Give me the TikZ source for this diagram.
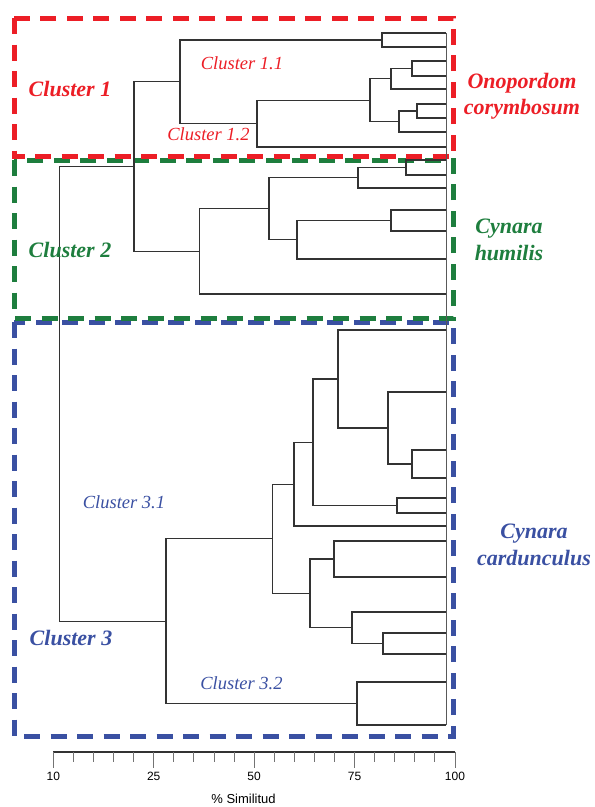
\documentclass[tikz,border=0pt]{standalone}
\usepackage{fontspec}
\setmainfont{Liberation Serif}
\newfontfamily\axisfont{Liberation Sans}
\usepackage{xcolor}
\usepackage{tikz}
\usetikzlibrary{positioning}

\definecolor{clred}{RGB}{236,30,38}
\definecolor{clgreen}{RGB}{30,126,62}
\definecolor{clblue}{RGB}{58,80,162}

\begin{document}
\begin{tikzpicture}[x=1pt, y=-1pt,
    branch/.style={draw=black!80, line width=1.2pt},
    leafend/.style={draw=black!65, line width=0.7pt},
    clbox/.style={line width=5pt, dash pattern=on 16pt off 10.5pt},
    bigtag/.style={font=\fontsize{22}{26.5}\selectfont\bfseries\itshape, align=center, inner sep=0pt},
    subtag/.style={font=\fontsize{18.5}{20}\selectfont\itshape, inner sep=0pt},
    axisline/.style={draw=black!80, line width=2pt},
    tickmark/.style={draw=black!55, line width=0.9pt},
    ticklab/.style={font=\axisfont\fontsize{12}{12}\selectfont, inner sep=0pt}]
    \useasboundingbox (0,0) rectangle (595,807);

    % dashed cluster frames
    \draw[clbox, draw=clblue] (14,322) rectangle (453.5,736);
    \draw[clbox, draw=clgreen] (14,160) rectangle (453.5,318);
    \draw[clbox, draw=clred] (14,18) rectangle (453.5,156);

    % leaves (right end of the dendrogram)
    \foreach \n/\y in {a1/33, a2/47, a3/61, a4/76, a5/89, a6/104, a7/118, a8/132, a9/147,
                       b1/160, b2/175, b3/188, b4/210, b5/231, b6/259, b7/294,
                       d1/330, d2/392, d3/450, d4/478, d5/498, d6/513, d7/526,
                       d8/541, d9/577, d10/612, d11/633, d12/654, d13/682, d14/725}
        \coordinate (\n) at (446,\y);

    % joins: cluster 1
    \coordinate (c12) at (382,40);
    \coordinate (c34) at (412,68.5);
    \coordinate (c345) at (391,78.75);
    \coordinate (c67) at (417,111);
    \coordinate (c678) at (399,121.5);
    \coordinate (c38) at (370,100.1);
    \coordinate (c39) at (257,123.6);
    \coordinate (cl1) at (180,81.8);
    % joins: cluster 2
    \coordinate (cb12) at (406,167.5);
    \coordinate (cb123) at (358,177.75);
    \coordinate (cb45) at (391,220.5);
    \coordinate (cb456) at (297,239.75);
    \coordinate (cb16) at (269,208.75);
    \coordinate (cl2) at (199.5,251.4);
    \coordinate (cl12) at (134,166.6);
    % joins: cluster 3
    \coordinate (cd34) at (412,464);
    \coordinate (cd234) at (388,428);
    \coordinate (cd14) at (338,379);
    \coordinate (cd56) at (397,505.5);
    \coordinate (cd16) at (313,442.25);
    \coordinate (cd17) at (294,484.1);
    \coordinate (cd89) at (334,559);
    \coordinate (cd1112) at (383,643.5);
    \coordinate (cd1012) at (352,627.75);
    \coordinate (cd812) at (310,593.4);
    \coordinate (cl31) at (272.5,538.75);
    \coordinate (cl32) at (357,703.5);
    \coordinate (cl3) at (166,621.1);
    \coordinate (root) at (59.3,393.9);

    \draw[leafend] (a1) -- (d14);

    % child -| parent
    \foreach \c/\p in {a1/c12, a2/c12, a3/c34, a4/c34, c34/c345, a5/c345,
                       a6/c67, a7/c67, c67/c678, a8/c678, c345/c38, c678/c38,
                       c38/c39, a9/c39, c12/cl1, c39/cl1,
                       b1/cb12, b2/cb12, cb12/cb123, b3/cb123, b4/cb45, b5/cb45,
                       cb45/cb456, b6/cb456, cb123/cb16, cb456/cb16, cb16/cl2, b7/cl2,
                       cl1/cl12, cl2/cl12,
                       d3/cd34, d4/cd34, d2/cd234, cd34/cd234, d1/cd14, cd234/cd14,
                       d5/cd56, d6/cd56, cd14/cd16, cd56/cd16, cd16/cd17, d7/cd17,
                       d8/cd89, d9/cd89, d11/cd1112, d12/cd1112, d10/cd1012, cd1112/cd1012,
                       cd89/cd812, cd1012/cd812, cd17/cl31, cd812/cl31,
                       d13/cl32, d14/cl32, cl31/cl3, cl32/cl3,
                       cl12/root, cl3/root}
        \draw[branch] (\c) -| (\p);

    % cluster names
    \node[bigtag, text=clred] (tag1) at (70,89) {Cluster 1};
    \node[bigtag, text=clgreen] (tag2) at (70,250) {Cluster 2};
    \node[bigtag, text=clblue] (tag3) at (71,638) {Cluster 3};
    \node[subtag, text=clred] (tag11) at (242,63) {Cluster 1.1};
    \node[subtag, text=clred] (tag12) at (208.5,134) {Cluster 1.2};
    \node[subtag, text=clblue] (tag31) at (124,502) {Cluster 3.1};
    \node[subtag, text=clblue] (tag32) at (241.5,683) {Cluster 3.2};

    % species
    \node[bigtag, text=clred] (sp1) at (522,96) {Onopordom\\corymbosum};
    \node[bigtag, text=clgreen] (sp2) at (509,240) {Cynara\\humilis};
    \node[bigtag, text=clblue] (sp3) at (534,545) {Cynara\\cardunculus};

    % similarity axis
    \coordinate (ax0) at (53.3,752);
    \coordinate (ax1) at (455,752);
    \draw[axisline] (ax0) -- (ax1);
    \foreach \i in {0,...,20} {
        \pgfmathsetmacro{\tx}{53.3+20.085*\i}
        \pgfmathtruncatemacro{\big}{mod(\i,5)==0 ? 1 : 0}
        \ifnum\big=1
            \draw[tickmark] (\tx,752) -- (\tx,768);
        \else
            \draw[tickmark] (\tx,752) -- (\tx,762);
        \fi
    }
    \foreach \i/\v in {0/10, 5/25, 10/50, 15/75, 20/100}
        \node[ticklab] (t\v) at (53.3+20.085*\i,776) {\v};
    \node[ticklab, font=\axisfont\fontsize{13}{14}\selectfont] (axtitle) at (243.5,798.5) {\% Similitud};
\end{tikzpicture}
\end{document}
